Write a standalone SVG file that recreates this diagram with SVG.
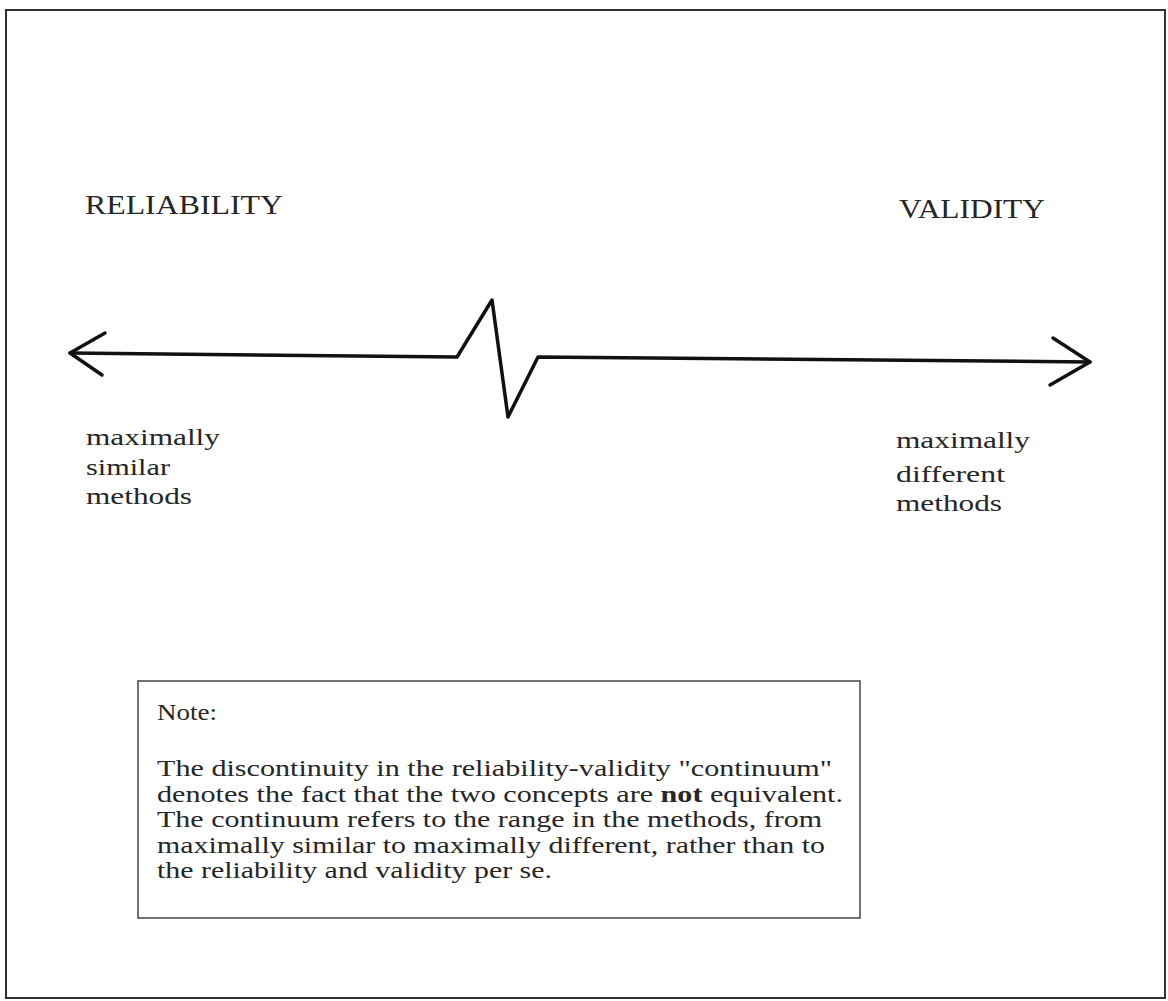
<svg xmlns="http://www.w3.org/2000/svg" width="1168" height="1001" viewBox="0 0 1168 1001">
<style>
.t{font-family:"Liberation Serif","Times New Roman",serif;fill:#262626}
.cap{font-size:27px}
.lbl{font-size:24px}
.note{font-size:23px}
.ln{fill:none;stroke:#111;stroke-width:3.5;stroke-linecap:round;stroke-linejoin:round}
</style>
<rect width="1168" height="1001" fill="#fff"/>
<rect id="frame" x="6" y="10" width="1159" height="988" fill="none" stroke="#333" stroke-width="2"/>
<g id="reliability"><text class="t cap" x="85" y="214" textLength="198" lengthAdjust="spacingAndGlyphs">RELIABILITY</text></g>
<g id="validity"><text class="t cap" x="899" y="218" textLength="146" lengthAdjust="spacingAndGlyphs">VALIDITY</text></g>
<g id="similar">
<text class="t lbl" x="86" y="445" textLength="134" lengthAdjust="spacingAndGlyphs">maximally</text>
<text class="t lbl" x="86" y="475" textLength="84" lengthAdjust="spacingAndGlyphs">similar</text>
<text class="t lbl" x="86" y="504" textLength="106" lengthAdjust="spacingAndGlyphs">methods</text>
</g>
<g id="different">
<text class="t lbl" x="896" y="448" textLength="134" lengthAdjust="spacingAndGlyphs">maximally</text>
<text class="t lbl" x="896" y="482" textLength="109" lengthAdjust="spacingAndGlyphs">different</text>
<text class="t lbl" x="896" y="511" textLength="106" lengthAdjust="spacingAndGlyphs">methods</text>
</g>
<g id="connectors">
<path class="ln" d="M70 353 L457 357 L492 300 L508 417 L538 357 L1090 362"/>
<path class="ln" d="M105 333 L70 353 L102 375"/>
<path class="ln" d="M1053 338 L1090 362 L1050 385"/>
</g>
<g id="note">
<rect x="138" y="681" width="722" height="237" fill="none" stroke="#444" stroke-width="1.5"/>
<text class="t note" x="157" y="720" textLength="60" lengthAdjust="spacingAndGlyphs">Note:</text>
<text class="t note" x="157" y="776" textLength="675" lengthAdjust="spacingAndGlyphs">The discontinuity in the reliability-validity "continuum"</text>
<text class="t note" x="157" y="802" textLength="686" lengthAdjust="spacingAndGlyphs">denotes the fact that the two concepts are <tspan font-weight="bold">not</tspan> equivalent.</text>
<text class="t note" x="157" y="827" textLength="665" lengthAdjust="spacingAndGlyphs">The continuum refers to the range in the methods, from</text>
<text class="t note" x="157" y="853" textLength="668" lengthAdjust="spacingAndGlyphs">maximally similar to maximally different, rather than to</text>
<text class="t note" x="157" y="878" textLength="395" lengthAdjust="spacingAndGlyphs">the reliability and validity per se.</text>
</g>
</svg>
